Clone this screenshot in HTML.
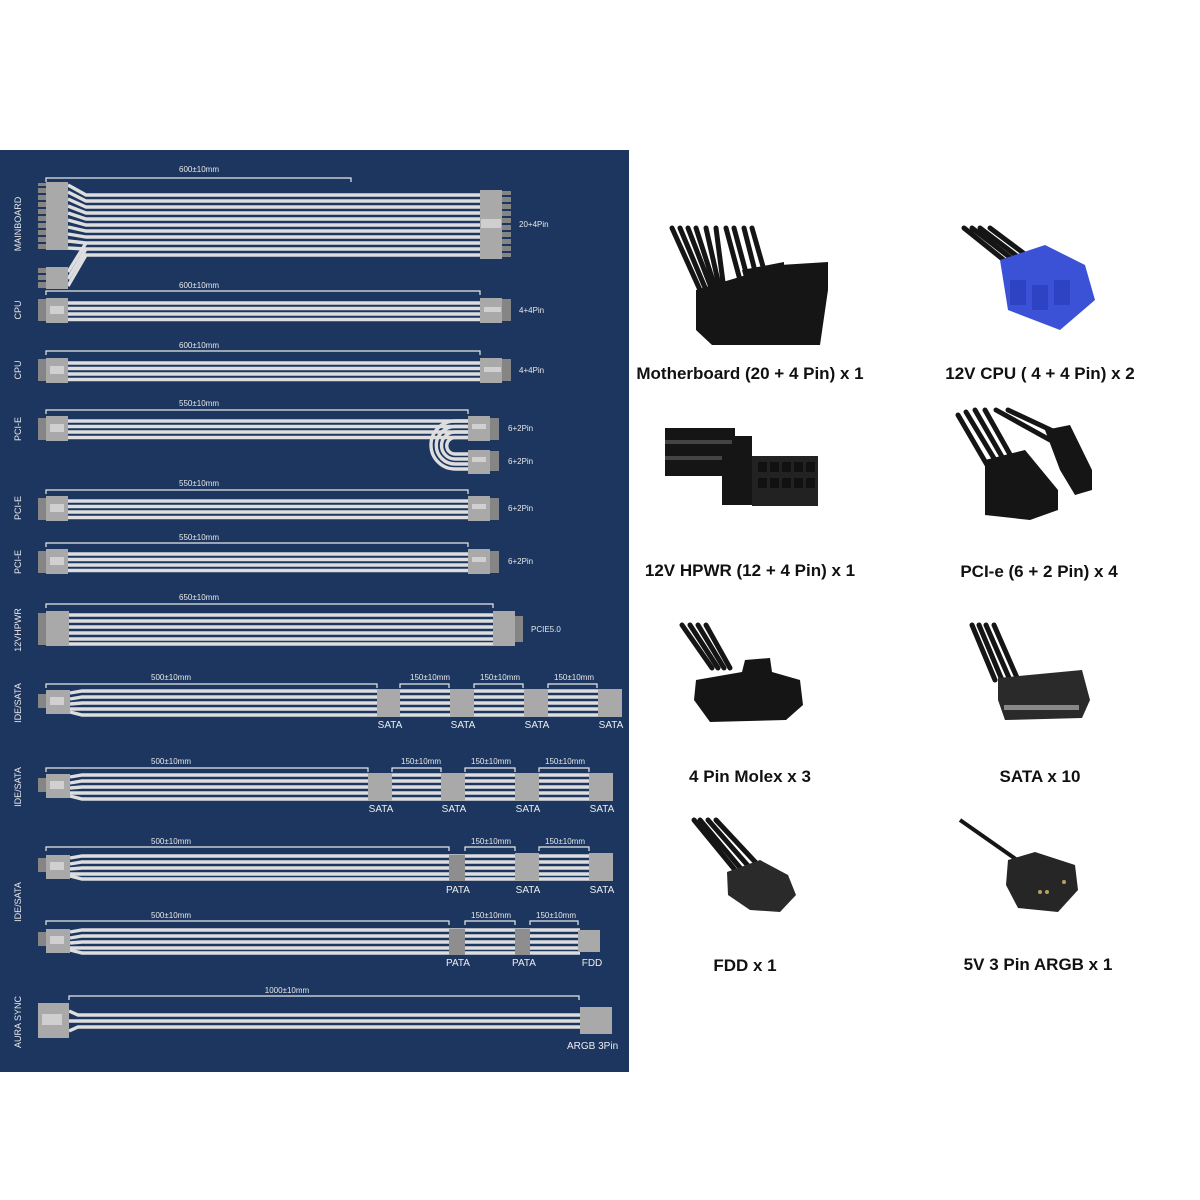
<!DOCTYPE html>
<html><head><meta charset="utf-8"><style>
html,body{margin:0;padding:0;background:#fff;}
svg{display:block;}
.d{font-family:"Liberation Sans",sans-serif;font-size:8px;fill:#e8e8e8;}
.s{font-family:"Liberation Sans",sans-serif;font-size:10px;fill:#eee;}
.v{font-family:"Liberation Sans",sans-serif;font-size:9px;fill:#e8e8e8;}
.t{font-family:"Liberation Sans",sans-serif;font-size:17px;font-weight:bold;fill:#111;}
.w{stroke:#dedede;stroke-width:3.4;fill:none;}
.b{stroke:#e8e8e8;stroke-width:1.2;fill:none;}
.c{fill:#a9a9a9;}
.p{fill:#858585;}
.k{fill:#151515;}
.kw{stroke:#151515;stroke-width:5;fill:none;stroke-linecap:round;}
</style></head><body>
<svg width="1200" height="1200" viewBox="0 0 1200 1200" xmlns="http://www.w3.org/2000/svg">
<rect x="0" y="150" width="629" height="922" fill="#1c365f"/>

<!-- side labels -->
<g class="v">
<text transform="translate(21,224) rotate(-90)" text-anchor="middle">MAINBOARD</text>
<text transform="translate(21,310) rotate(-90)" text-anchor="middle">CPU</text>
<text transform="translate(21,370) rotate(-90)" text-anchor="middle">CPU</text>
<text transform="translate(21,429) rotate(-90)" text-anchor="middle">PCI-E</text>
<text transform="translate(21,508) rotate(-90)" text-anchor="middle">PCI-E</text>
<text transform="translate(21,562) rotate(-90)" text-anchor="middle">PCI-E</text>
<text transform="translate(21,630) rotate(-90)" text-anchor="middle">12VHPWR</text>
<text transform="translate(21,703) rotate(-90)" text-anchor="middle">IDE/SATA</text>
<text transform="translate(21,787) rotate(-90)" text-anchor="middle">IDE/SATA</text>
<text transform="translate(21,902) rotate(-90)" text-anchor="middle">IDE/SATA</text>
<text transform="translate(21,1022) rotate(-90)" text-anchor="middle">AURA SYNC</text>
</g>

<!-- MAINBOARD -->
<path class="b" d="M46,182V178H351V182"/><text class="d" x="199" y="172" text-anchor="middle">600±10mm</text>
<g class="w">
<polyline points="68,185 86,195 480,195"/><polyline points="68,192 86,201 480,201"/>
<polyline points="68,199 86,207 480,207"/><polyline points="68,206 86,213 480,213"/>
<polyline points="68,213 86,219 480,219"/><polyline points="68,220 86,225 480,225"/>
<polyline points="68,227 86,231 480,231"/><polyline points="68,234 86,237 480,237"/>
<polyline points="68,241 86,243 480,243"/><polyline points="68,248 86,249 480,249"/>
<polyline points="68,272 86,243"/><polyline points="68,279 86,249"/><polyline points="68,286 86,255 480,255"/>
</g>
<g class="p"><rect x="38" y="183" width="9" height="66"/><rect x="38" y="268" width="9" height="20"/><rect x="502" y="191" width="9" height="66"/></g>
<g fill="#1c365f"><rect x="38" y="186" width="9" height="2"/><rect x="38" y="193" width="9" height="2"/><rect x="38" y="200" width="9" height="2"/><rect x="38" y="207" width="9" height="2"/><rect x="38" y="214" width="9" height="2"/><rect x="38" y="221" width="9" height="2"/><rect x="38" y="228" width="9" height="2"/><rect x="38" y="235" width="9" height="2"/><rect x="38" y="242" width="9" height="2"/><rect x="38" y="273" width="9" height="2"/><rect x="38" y="280" width="9" height="2"/>
<rect x="502" y="195" width="9" height="2"/><rect x="502" y="202" width="9" height="2"/><rect x="502" y="209" width="9" height="2"/><rect x="502" y="216" width="9" height="2"/><rect x="502" y="223" width="9" height="2"/><rect x="502" y="230" width="9" height="2"/><rect x="502" y="237" width="9" height="2"/><rect x="502" y="244" width="9" height="2"/><rect x="502" y="251" width="9" height="2"/></g>
<rect class="c" x="46" y="182" width="22" height="68"/><rect class="c" x="46" y="267" width="22" height="22"/>
<rect class="c" x="480" y="190" width="22" height="69"/><rect x="481" y="219" width="20" height="9" fill="#cfcfcf"/>
<text class="d" x="519" y="227">20+4Pin</text>

<!-- CPU / PCIE template rows -->
<g id="row4">
</g>
<!-- CPU1 -->
<path class="b" d="M46,295V291H480V295"/><text class="d" x="199" y="288" text-anchor="middle">600±10mm</text>
<g class="w"><line x1="68" y1="303" x2="480" y2="303"/><line x1="68" y1="308.5" x2="480" y2="308.5"/><line x1="68" y1="314" x2="480" y2="314"/><line x1="68" y1="319.5" x2="480" y2="319.5"/></g>
<rect class="p" x="38" y="299" width="9" height="22"/><rect class="p" x="502" y="299" width="9" height="22"/>
<rect class="c" x="46" y="298" width="22" height="25"/><rect x="50" y="306" width="14" height="8" fill="#d0d0d0"/>
<rect class="c" x="480" y="298" width="22" height="25"/><rect x="484" y="307" width="17" height="5" fill="#d0d0d0"/>
<text class="d" x="519" y="313">4+4Pin</text>
<!-- CPU2 -->
<path class="b" d="M46,355V351H480V355"/><text class="d" x="199" y="348" text-anchor="middle">600±10mm</text>
<g class="w"><line x1="68" y1="363" x2="480" y2="363"/><line x1="68" y1="368.5" x2="480" y2="368.5"/><line x1="68" y1="374" x2="480" y2="374"/><line x1="68" y1="379.5" x2="480" y2="379.5"/></g>
<rect class="p" x="38" y="359" width="9" height="22"/><rect class="p" x="502" y="359" width="9" height="22"/>
<rect class="c" x="46" y="358" width="22" height="25"/><rect x="50" y="366" width="14" height="8" fill="#d0d0d0"/>
<rect class="c" x="480" y="358" width="22" height="25"/><rect x="484" y="367" width="17" height="5" fill="#d0d0d0"/>
<text class="d" x="519" y="373">4+4Pin</text>
<!-- PCIE1 -->
<path class="b" d="M46,414V410H468V414"/><text class="d" x="199" y="406" text-anchor="middle">550±10mm</text>
<g class="w"><line x1="68" y1="421" x2="468" y2="421"/><line x1="68" y1="426.5" x2="468" y2="426.5"/><line x1="68" y1="432" x2="468" y2="432"/><line x1="68" y1="437.5" x2="468" y2="437.5"/>
<path d="M468,421H455A20,20 0 0 0 455,469H468"/><path d="M468,426.5H455A16,16 0 0 0 455,464H468"/><path d="M468,432H455A11,11 0 0 0 455,459H468"/><path d="M468,437.5H455A8,8 0 0 0 455,454H468"/></g>
<rect class="p" x="38" y="418" width="9" height="22"/><rect class="p" x="490" y="418" width="9" height="22"/><rect class="p" x="490" y="451" width="9" height="20"/>
<rect class="c" x="46" y="416" width="22" height="25"/><rect x="50" y="424" width="14" height="8" fill="#d0d0d0"/>
<rect class="c" x="468" y="416" width="22" height="25"/><rect x="472" y="424" width="14" height="5" fill="#d0d0d0"/>
<rect class="c" x="468" y="450" width="22" height="24"/><rect x="472" y="457" width="14" height="5" fill="#d0d0d0"/>
<text class="d" x="508" y="431">6+2Pin</text><text class="d" x="508" y="464">6+2Pin</text>
<!-- PCIE2 -->
<path class="b" d="M46,494V490H468V494"/><text class="d" x="199" y="486" text-anchor="middle">550±10mm</text>
<g class="w"><line x1="68" y1="501" x2="468" y2="501"/><line x1="68" y1="506.5" x2="468" y2="506.5"/><line x1="68" y1="512" x2="468" y2="512"/><line x1="68" y1="517.5" x2="468" y2="517.5"/></g>
<rect class="p" x="38" y="498" width="9" height="22"/><rect class="p" x="490" y="498" width="9" height="22"/>
<rect class="c" x="46" y="496" width="22" height="25"/><rect x="50" y="504" width="14" height="8" fill="#d0d0d0"/>
<rect class="c" x="468" y="496" width="22" height="25"/><rect x="472" y="504" width="14" height="5" fill="#d0d0d0"/>
<text class="d" x="508" y="511">6+2Pin</text>
<!-- PCIE3 -->
<path class="b" d="M46,547V543H468V547"/><text class="d" x="199" y="540" text-anchor="middle">550±10mm</text>
<g class="w"><line x1="68" y1="554" x2="468" y2="554"/><line x1="68" y1="559.5" x2="468" y2="559.5"/><line x1="68" y1="565" x2="468" y2="565"/><line x1="68" y1="570.5" x2="468" y2="570.5"/></g>
<rect class="p" x="38" y="551" width="9" height="22"/><rect class="p" x="490" y="551" width="9" height="22"/>
<rect class="c" x="46" y="549" width="22" height="25"/><rect x="50" y="557" width="14" height="8" fill="#d0d0d0"/>
<rect class="c" x="468" y="549" width="22" height="25"/><rect x="472" y="557" width="14" height="5" fill="#d0d0d0"/>
<text class="d" x="508" y="564">6+2Pin</text>
<!-- 12VHPWR -->
<path class="b" d="M46,608V604H493V608"/><text class="d" x="199" y="600" text-anchor="middle">650±10mm</text>
<g class="w"><line x1="68" y1="615" x2="493" y2="615"/><line x1="68" y1="621" x2="493" y2="621"/><line x1="68" y1="627" x2="493" y2="627"/><line x1="68" y1="633" x2="493" y2="633"/><line x1="68" y1="639" x2="493" y2="639"/><line x1="68" y1="644" x2="493" y2="644"/></g>
<rect class="p" x="38" y="613" width="9" height="32"/><rect class="p" x="515" y="616" width="8" height="26"/>
<rect class="c" x="46" y="611" width="23" height="35"/><rect class="c" x="493" y="611" width="22" height="35"/>
<text class="d" x="531" y="632">PCIE5.0</text>

<!-- IDE/SATA 1 -->
<path class="b" d="M46,688V684H377V688M400,688V684H449V688M474,688V684H523V688M548,688V684H597V688"/>
<g class="d" text-anchor="middle"><text x="171" y="680">500±10mm</text><text x="430" y="680">150±10mm</text><text x="500" y="680">150±10mm</text><text x="574" y="680">150±10mm</text></g>
<g class="w"><polyline points="70,693 82,691 600,691"/><polyline points="70,699 82,697 600,697"/><polyline points="70,704 82,703 600,703"/><polyline points="70,709 82,709 600,709"/><polyline points="70,712 82,715 600,715"/></g>
<rect class="p" x="38" y="694" width="9" height="14"/><rect class="c" x="46" y="690" width="24" height="24"/><rect x="50" y="697" width="14" height="8" fill="#d0d0d0"/>
<g class="c"><rect x="377" y="689" width="23" height="28"/><rect x="450" y="689" width="24" height="28"/><rect x="524" y="689" width="24" height="28"/><rect x="598" y="689" width="24" height="28"/></g>
<g class="s" text-anchor="middle"><text x="390" y="728">SATA</text><text x="463" y="728">SATA</text><text x="537" y="728">SATA</text><text x="611" y="728">SATA</text></g>
<!-- IDE/SATA 2 -->
<path class="b" d="M46,772V768H368V772M392,772V768H441V772M465,772V768H515V772M539,772V768H589V772"/>
<g class="d" text-anchor="middle"><text x="171" y="764">500±10mm</text><text x="421" y="764">150±10mm</text><text x="491" y="764">150±10mm</text><text x="565" y="764">150±10mm</text></g>
<g class="w"><polyline points="70,777 82,775 590,775"/><polyline points="70,783 82,781 590,781"/><polyline points="70,788 82,787 590,787"/><polyline points="70,793 82,793 590,793"/><polyline points="70,796 82,799 590,799"/></g>
<rect class="p" x="38" y="778" width="9" height="14"/><rect class="c" x="46" y="774" width="24" height="24"/><rect x="50" y="781" width="14" height="8" fill="#d0d0d0"/>
<g class="c"><rect x="368" y="773" width="24" height="28"/><rect x="441" y="773" width="24" height="28"/><rect x="515" y="773" width="24" height="28"/><rect x="589" y="773" width="24" height="28"/></g>
<g class="s" text-anchor="middle"><text x="381" y="812">SATA</text><text x="454" y="812">SATA</text><text x="528" y="812">SATA</text><text x="602" y="812">SATA</text></g>
<!-- IDE/SATA 3 -->
<path class="b" d="M46,851V847H449V851M465,851V847H515V851M539,851V847H589V851"/>
<g class="d" text-anchor="middle"><text x="171" y="844">500±10mm</text><text x="491" y="844">150±10mm</text><text x="565" y="844">150±10mm</text></g>
<g class="w"><polyline points="70,858 82,856 590,856"/><polyline points="70,864 82,862 590,862"/><polyline points="70,869 82,868 590,868"/><polyline points="70,874 82,874 590,874"/><polyline points="70,876 82,879 590,879"/></g>
<rect class="p" x="38" y="858" width="9" height="14"/><rect class="c" x="46" y="855" width="24" height="24"/><rect x="50" y="862" width="14" height="8" fill="#d0d0d0"/>
<rect x="449" y="855" width="16" height="26" fill="#8e8e8e"/>
<g class="c"><rect x="515" y="853" width="24" height="28"/><rect x="589" y="853" width="24" height="28"/></g>
<g class="s" text-anchor="middle"><text x="458" y="893">PATA</text><text x="528" y="893">SATA</text><text x="602" y="893">SATA</text></g>
<!-- IDE/SATA 4 -->
<path class="b" d="M46,925V921H449V925M465,925V921H515V925M530,925V921H578V925"/>
<g class="d" text-anchor="middle"><text x="171" y="918">500±10mm</text><text x="491" y="918">150±10mm</text><text x="556" y="918">150±10mm</text></g>
<g class="w"><polyline points="70,932 82,930 580,930"/><polyline points="70,938 82,936 580,936"/><polyline points="70,943 82,942 580,942"/><polyline points="70,948 82,948 580,948"/><polyline points="70,950 82,953 580,953"/></g>
<rect class="p" x="38" y="932" width="9" height="14"/><rect class="c" x="46" y="929" width="24" height="24"/><rect x="50" y="936" width="14" height="8" fill="#d0d0d0"/>
<rect x="449" y="929" width="16" height="26" fill="#8e8e8e"/><rect x="515" y="929" width="15" height="26" fill="#8e8e8e"/>
<rect class="c" x="578" y="930" width="22" height="22"/>
<g class="s" text-anchor="middle"><text x="458" y="966">PATA</text><text x="524" y="966">PATA</text><text x="592" y="966">FDD</text></g>
<!-- AURA -->
<path class="b" d="M69,1000V996H579V1000"/><text class="d" x="287" y="993" text-anchor="middle">1000±10mm</text>
<g class="w"><polyline points="69,1011 78,1015 580,1015"/><polyline points="69,1021 580,1021"/><polyline points="69,1031 78,1027 580,1027"/></g>
<rect class="c" x="38" y="1003" width="31" height="35"/><rect x="42" y="1014" width="20" height="11" fill="#cfcfcf"/>
<rect class="c" x="580" y="1007" width="32" height="27"/>
<text class="s" x="567" y="1049">ARGB 3Pin</text>

<!-- RIGHT PHOTOS (approximations) -->
<!-- motherboard -->
<g>
<path class="kw" d="M672,228L700,290M680,228L706,290M688,228L712,290M696,228L716,290M706,228L720,290M716,228L724,290M726,228L740,280M734,228L748,280M744,228L756,275M752,228L764,270"/>
<path class="k" d="M696,290L780,265L828,262L828,290L820,345L712,345L696,330Z"/>
<path class="k" d="M742,270L784,262L784,295L750,300Z" fill="#333"/>
</g>
<!-- CPU blue -->
<g>
<path class="kw" d="M964,228L1010,265M972,228L1016,262M980,228L1022,260M990,228L1030,258"/>
<path d="M1000,260L1045,245L1085,265L1095,300L1060,330L1008,310Z" fill="#3b52d6"/>
<rect x="1010" y="280" width="16" height="25" fill="#2d43c4"/><rect x="1032" y="285" width="16" height="25" fill="#2d43c4"/><rect x="1054" y="280" width="16" height="25" fill="#2d43c4"/>
</g>
<!-- HPWR -->
<g>
<rect x="665" y="428" width="70" height="48" class="k"/>
<rect x="665" y="440" width="70" height="4" fill="#444"/><rect x="665" y="456" width="70" height="4" fill="#444"/>
<rect x="722" y="445" width="30" height="60" class="k"/><rect x="732" y="436" width="20" height="14" class="k"/>
<rect x="752" y="456" width="66" height="50" fill="#222"/>
<g fill="#111"><rect x="758" y="462" width="9" height="10"/><rect x="770" y="462" width="9" height="10"/><rect x="782" y="462" width="9" height="10"/><rect x="794" y="462" width="9" height="10"/><rect x="806" y="462" width="9" height="10"/><rect x="758" y="478" width="9" height="10"/><rect x="770" y="478" width="9" height="10"/><rect x="782" y="478" width="9" height="10"/><rect x="794" y="478" width="9" height="10"/><rect x="806" y="478" width="9" height="10"/></g>
</g>
<!-- PCIe photo -->
<g>
<path class="kw" d="M958,415L990,470M966,412L998,465M975,410L1005,462M985,410L1012,458M996,410L1050,440M1008,410L1055,432"/>
<path class="k" d="M985,460L1025,450L1058,490L1058,510L1030,520L985,515Z"/>
<path class="k" d="M1045,430L1070,425L1092,470L1092,490L1075,495L1060,470Z"/>
</g>
<!-- Molex -->
<g>
<path class="kw" d="M682,625L712,668M690,625L718,668M698,625L724,668M706,625L730,668"/>
<path class="k" d="M696,680L742,672L745,660L770,658L772,672L800,680L803,705L786,720L710,722L694,700Z"/>
</g>
<!-- SATA -->
<g>
<path class="kw" d="M972,625L995,680M979,625L1002,680M986,625L1010,680M994,625L1018,680"/>
<path d="M998,678L1082,670L1090,700L1082,718L1005,720L998,700Z" fill="#2a2a2a"/>
<rect x="1004" y="705" width="75" height="5" fill="#888"/>
</g>
<!-- FDD -->
<g>
<path class="kw" d="M694,820L735,870M700,820L742,870M708,820L750,868M716,820L758,865"/>
<path d="M727,872L760,860L788,875L796,895L780,912L750,910L728,895Z" fill="#2a2a2a"/>
</g>
<!-- ARGB -->
<g>
<path d="M960,820L1020,862" stroke="#151515" stroke-width="4" fill="none"/>
<path d="M1008,860L1035,852L1075,865L1078,890L1058,912L1018,908L1006,885Z" fill="#262626"/>
<circle cx="1040" cy="892" r="2" fill="#b8a060"/><circle cx="1047" cy="892" r="2" fill="#b8a060"/><circle cx="1064" cy="882" r="2" fill="#b8a060"/>
</g>

<!-- Titles -->
<g class="t" text-anchor="middle">
<text x="750" y="379">Motherboard (20 + 4 Pin) x 1</text>
<text x="1040" y="379">12V CPU ( 4 + 4 Pin) x 2</text>
<text x="750" y="576">12V HPWR (12 + 4 Pin) x 1</text>
<text x="1039" y="577">PCI-e (6 + 2 Pin) x 4</text>
<text x="750" y="782">4 Pin Molex x 3</text>
<text x="1040" y="782">SATA x 10</text>
<text x="745" y="971">FDD x 1</text>
<text x="1038" y="970">5V 3 Pin ARGB x 1</text>
</g>
</svg>
</body></html>
